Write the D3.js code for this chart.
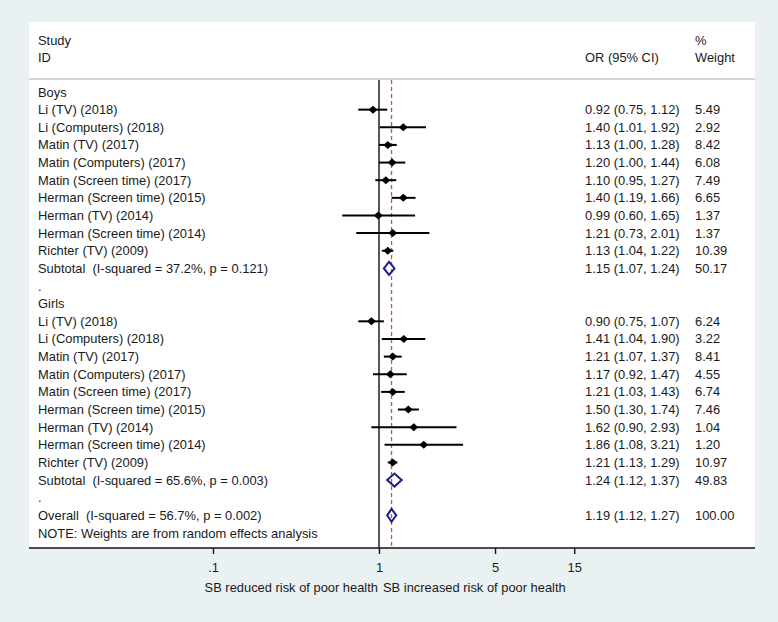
<!DOCTYPE html>
<html>
<head>
<meta charset="utf-8">
<script src="https://cdn.jsdelivr.net/npm/d3@7"></script>
<style>
  body { margin: 0; background: #eaf1f3; }
  text { font-family: "Liberation Sans", Arial, sans-serif; font-size: 12.9px; fill: #1a1a1a; white-space: pre; }
</style>
</head>
<body>
<script>
// data
var boysStudies = ["Li (TV) (2018)", "Li (Computers) (2018)", "Matin (TV) (2017)", "Matin (Computers) (2017)",
  "Matin (Screen time) (2017)", "Herman (Screen time) (2015)", "Herman (TV) (2014)", "Herman (Screen time) (2014)", "Richter (TV) (2009)"];
var boysOR = [0.92, 1.40, 1.13, 1.20, 1.10, 1.40, 0.99, 1.21, 1.13];
var boysLo = [0.75, 1.01, 1.00, 1.00, 0.95, 1.19, 0.60, 0.73, 1.04];
var boysHi = [1.12, 1.92, 1.28, 1.44, 1.27, 1.66, 1.65, 2.01, 1.22];
var boysW = ["5.49", "2.92", "8.42", "6.08", "7.49", "6.65", "1.37", "1.37", "10.39"];

var girlsStudies = ["Li (TV) (2018)", "Li (Computers) (2018)", "Matin (TV) (2017)", "Matin (Computers) (2017)",
  "Matin (Screen time) (2017)", "Herman (Screen time) (2015)", "Herman (TV) (2014)", "Herman (Screen time) (2014)", "Richter (TV) (2009)"];
var girlsOR = [0.90, 1.41, 1.21, 1.17, 1.21, 1.50, 1.62, 1.86, 1.21];
var girlsLo = [0.75, 1.04, 1.07, 0.92, 1.03, 1.30, 0.90, 1.08, 1.13];
var girlsHi = [1.07, 1.90, 1.37, 1.47, 1.43, 1.74, 2.93, 3.21, 1.29];
var girlsW = ["6.24", "3.22", "8.41", "4.55", "6.74", "7.46", "1.04", "1.20", "10.97"];

var pooledLabels = ["Subtotal  (I-squared = 37.2%, p = 0.121)", "Subtotal  (I-squared = 65.6%, p = 0.003)", "Overall  (I-squared = 56.7%, p = 0.002)"];
var pooledOR = [1.15, 1.24, 1.19];
var pooledLo = [1.07, 1.12, 1.12];
var pooledHi = [1.24, 1.37, 1.27];
var pooledW = ["50.17", "49.83", "100.00"];

var tickValues = [0.1, 1, 5, 15];
var tickLabels = [".1", "1", "5", "15"];

var W = 778, H = 622;
var svg = d3.select("body").append("svg").attr("width", W).attr("height", H);

var panel = { left: 29, right: 755, top: 22, bottom: 548 };

var x = d3.scaleLog().domain([0.1, 1]).range([213, 379]);
var row = d3.scaleLinear().domain([0, 25]).range([92, 533]);

function fmt(v) { return v.toFixed(2); }
function ciText(o, l, h) { return fmt(o) + " (" + fmt(l) + ", " + fmt(h) + ")"; }

// build list of rows
var rows = [];
rows.push({ label: "Boys" });
boysStudies.forEach(function(s, i) { rows.push({ label: s, or: boysOR[i], lo: boysLo[i], hi: boysHi[i], w: boysW[i], type: "study" }); });
rows.push({ label: pooledLabels[0], or: pooledOR[0], lo: pooledLo[0], hi: pooledHi[0], w: pooledW[0], type: "pooled" });
rows.push({ label: "." });
rows.push({ label: "Girls" });
girlsStudies.forEach(function(s, i) { rows.push({ label: s, or: girlsOR[i], lo: girlsLo[i], hi: girlsHi[i], w: girlsW[i], type: "study" }); });
rows.push({ label: pooledLabels[1], or: pooledOR[1], lo: pooledLo[1], hi: pooledHi[1], w: pooledW[1], type: "pooled" });
rows.push({ label: "." });
rows.push({ label: pooledLabels[2], or: pooledOR[2], lo: pooledLo[2], hi: pooledHi[2], w: pooledW[2], type: "pooled" });
rows.push({ label: "NOTE: Weights are from random effects analysis" });

// white panel
svg.append("rect").attr("x", panel.left).attr("y", panel.top)
  .attr("width", panel.right - panel.left).attr("height", panel.bottom - panel.top).attr("fill", "white");

// header
var hdr = svg.append("g");
hdr.append("text").attr("x", 38).attr("y", 45).text("Study");
hdr.append("text").attr("x", 38).attr("y", 62).text("ID");
hdr.append("text").attr("x", 585).attr("y", 62).text("OR (95% CI)");
hdr.append("text").attr("x", 695).attr("y", 45).text("%");
hdr.append("text").attr("x", 695).attr("y", 62).text("Weight");
svg.append("line").attr("x1", panel.left).attr("x2", panel.right).attr("y1", 79).attr("y2", 79)
  .attr("stroke", "#c9c9c9").attr("stroke-width", 1.5);

// null line and overall line
svg.append("line").attr("x1", x(1)).attr("x2", x(1)).attr("y1", 80).attr("y2", panel.bottom)
  .attr("stroke", "#111").attr("stroke-width", 1.4);
svg.append("line").attr("x1", x(pooledOR[2])).attr("x2", x(pooledOR[2])).attr("y1", 80).attr("y2", panel.bottom)
  .attr("stroke", "#c0505a").attr("stroke-width", 1.3).attr("stroke-dasharray", "4,3");

// row labels
svg.append("g").selectAll("text").data(rows).enter().append("text")
  .attr("x", 38).attr("y", function(d, i) { return row(i) + 4.5; })
  .text(function(d) { return d.label; });

var est = rows.map(function(d, i) { d.i = i; return d; }).filter(function(d) { return d.or !== undefined; });

svg.append("g").selectAll("text").data(est).enter().append("text")
  .attr("x", 585).attr("y", function(d) { return row(d.i) + 4.5; })
  .text(function(d) { return ciText(d.or, d.lo, d.hi); });
svg.append("g").selectAll("text").data(est).enter().append("text")
  .attr("x", 695).attr("y", function(d) { return row(d.i) + 4.5; })
  .text(function(d) { return d.w; });

// study CI lines and point diamonds
var studies = est.filter(function(d) { return d.type === "study"; });
svg.append("g").selectAll("line").data(studies).enter().append("line")
  .attr("x1", function(d) { return x(d.lo); }).attr("x2", function(d) { return x(d.hi); })
  .attr("y1", function(d) { return row(d.i); }).attr("y2", function(d) { return row(d.i); })
  .attr("stroke", "#000").attr("stroke-width", 2);
svg.append("g").selectAll("path").data(studies).enter().append("path")
  .attr("d", function(d) {
    var cx = x(d.or), cy = row(d.i);
    return "M" + (cx - 4.5) + "," + cy + "L" + cx + "," + (cy - 4) + "L" + (cx + 4.5) + "," + cy + "L" + cx + "," + (cy + 4) + "Z";
  })
  .attr("fill", "#000");

// pooled diamonds
var pooled = est.filter(function(d) { return d.type === "pooled"; });
svg.append("g").selectAll("path").data(pooled).enter().append("path")
  .attr("d", function(d) {
    var cy = row(d.i);
    return "M" + x(d.lo) + "," + cy + "L" + x(d.or) + "," + (cy - 6.5) + "L" + x(d.hi) + "," + cy + "L" + x(d.or) + "," + (cy + 6.5) + "Z";
  })
  .attr("fill", "none").attr("stroke", "#1d1f8a").attr("stroke-width", 2);

// x axis
svg.append("line").attr("x1", panel.left).attr("x2", panel.right).attr("y1", panel.bottom).attr("y2", panel.bottom)
  .attr("stroke", "#111").attr("stroke-width", 1.4);
var axis = d3.axisBottom(x).tickValues(tickValues).tickSize(6).tickFormat(function(d, i) { return tickLabels[i]; });
var ax = svg.append("g").attr("transform", "translate(0," + panel.bottom + ")").call(axis);
ax.select(".domain").remove();
ax.selectAll(".tick line").attr("stroke", "#111").attr("stroke-width", 1.4);
ax.selectAll(".tick text").attr("y", 15).style("font-family", '"Liberation Sans", Arial, sans-serif')
  .style("font-size", "12.9px").attr("fill", "#1a1a1a");

svg.append("text").attr("x", x(1) - 1).attr("y", 592).attr("text-anchor", "end").text("SB reduced risk of poor health");
svg.append("text").attr("x", x(1) + 4).attr("y", 592).text("SB increased risk of poor health");
</script>
</body>
</html>
